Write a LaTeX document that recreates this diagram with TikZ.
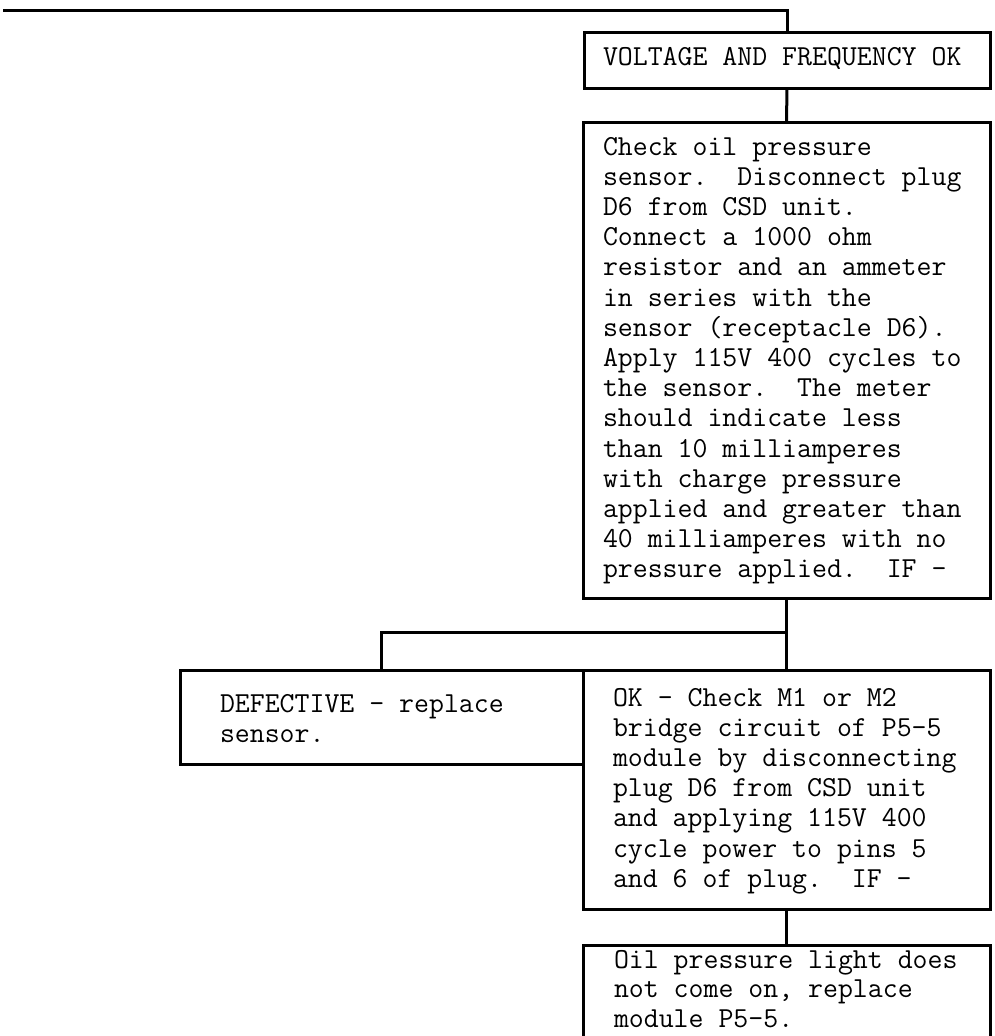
\documentclass[tikz,border=0pt]{standalone}
\usepackage{fontspec}
\newcommand{\firstln}{\rule{0pt}{22pt}}
\newcommand{\twfont}{\ttfamily\addfontfeatures{FakeBold=0.5}\frenchspacing}
\begin{document}
\begin{tikzpicture}[x=1pt,y=-1pt,line width=3pt,
  box/.style={draw,rectangle,inner sep=0pt,outer sep=0pt,anchor=north west},
  txt/.style={anchor=north west,inner sep=0pt,outer sep=0pt,align=left,
    font=\fontsize{29}{30.2}\selectfont\twfont},
  conn/.style={draw,line width=3pt}]
\fill[white] (0,0) rectangle (995,1036);
\useasboundingbox (0,0) rectangle (995,1036);

% boxes
\node[box,minimum width=406pt,minimum height=56pt] (volt) at (584,32) {};
\node[box,minimum width=407pt,minimum height=476pt] (chk) at (583,122) {};
\node[box,minimum width=403pt,minimum height=94pt] (def) at (180,670) {};
\node[box,minimum width=407pt,minimum height=239pt] (ok) at (583,670) {};
\node[box,draw=none,minimum width=407pt,minimum height=91pt] (oil) at (583,945) {};
\draw (oil.south west) -- (oil.north west) -- (oil.north east) -- (oil.south east);

% texts
\node[txt] (voltt) at (603,43) {\firstln VOLTAGE AND FREQUENCY OK};
\node[txt] (chkt) at (603,133) {\firstln Check oil pressure\\
sensor.~ Disconnect plug\\
D6 from CSD unit.\\
Connect a 1000 ohm\\
resistor and an ammeter\\
in series with the\\
sensor (receptacle D6).\\
Apply 115V 400 cycles to\\
the sensor.~ The meter\\
should indicate less\\
than 10 milliamperes\\
with charge pressure\\
applied and greater than\\
40 milliamperes with no\\
pressure applied.~ IF -};
\node[txt] (deft) at (220,690) {\firstln DEFECTIVE - replace\\ sensor.};
\node[txt] (okt) at (613,684) {\firstln OK - Check M1 or M2\\
bridge circuit of P5-5\\
module by disconnecting\\
plug D6 from CSD unit\\
and applying 115V 400\\
cycle power to pins 5\\
and 6 of plug.~ IF -};
\node[txt,font=\fontsize{29}{29.5}\selectfont\twfont] (oilt) at (614,946) {\firstln Oil pressure light does\\
not come on, replace\\
module P5-5.};

% connectors
\coordinate (start) at (3,10);
\draw[conn] (start) -| (volt.north);
\draw[conn] (volt.south) -- (chk.north);
\draw[conn] (chk.south) -- (ok.north);
\path (chk.south) ++(0,34) coordinate (br);
\draw[conn] (br) -| (def.north);
\draw[conn] (ok.south) -- (oil.north);
\end{tikzpicture}
\end{document}
